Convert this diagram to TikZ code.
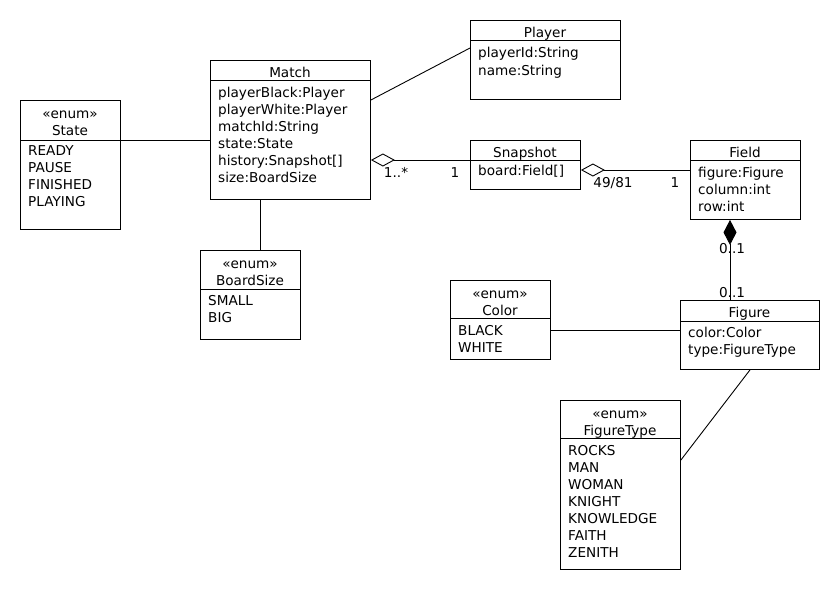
\documentclass[tikz,border=0pt]{standalone}
\usepackage{fontspec}
\setmainfont{DejaVu Sans}
\usetikzlibrary{arrows.meta}
\begin{document}
\begin{tikzpicture}[x=1pt,y=-1pt,
  classbox/.style={draw,line width=0.9pt,fill=white,inner sep=0pt,anchor=north west},
  txt/.style={inner sep=0pt,anchor=base west,font=\fontsize{13.6}{17}\selectfont},
  ttl/.style={inner sep=0pt,anchor=base,font=\fontsize{13.6}{17}\selectfont},
  lbl/.style={inner sep=0pt,anchor=base,font=\fontsize{13.6}{17}\selectfont},
  conn/.style={line width=0.9pt},
  agg/.style={conn,{Diamond[open,length=24pt,width=13pt,line width=0.9pt]}-},
  comp/.style={conn,{Diamond[length=25pt,width=13pt]}-}]
\useasboundingbox[fill=white] (0,0) rectangle (840,590);

% Player
\node[classbox,minimum width=150pt,minimum height=79pt] (player) at (470,20) {};
\draw[conn] (player.west |- 0,40) -- (player.east |- 0,40);
\node[ttl] (playerT) at (545,37) {Player};
\node[txt] (playerA1) at (478,57) {playerId:String};
\node[txt] (playerA2) at (478,75) {name:String};

% Match
\node[classbox,minimum width=160pt,minimum height=139pt] (match) at (210,60) {};
\draw[conn] (match.west |- 0,80) -- (match.east |- 0,80);
\node[ttl] (matchT) at (290,77) {Match};
\node[txt] (matchA1) at (218,97) {playerBlack:Player};
\node[txt] (matchA2) at (218,114) {playerWhite:Player};
\node[txt] (matchA3) at (218,131) {matchId:String};
\node[txt] (matchA4) at (218,148) {state:State};
\node[txt] (matchA5) at (218,165) {history:Snapshot[]};
\node[txt] (matchA6) at (218,182) {size:BoardSize};

% State
\node[classbox,minimum width=100pt,minimum height=129pt] (state) at (20,100) {};
\draw[conn] (state.west |- 0,140) -- (state.east |- 0,140);
\node[ttl] (stateS) at (70,118) {«enum»};
\node[ttl] (stateT) at (70,135) {State};
\node[txt] (stateA1) at (28,155) {READY};
\node[txt] (stateA2) at (28,172) {PAUSE};
\node[txt] (stateA3) at (28,189) {FINISHED};
\node[txt] (stateA4) at (28,206) {PLAYING};

% BoardSize
\node[classbox,minimum width=100pt,minimum height=89pt] (board) at (200,250) {};
\draw[conn] (board.west |- 0,289) -- (board.east |- 0,289);
\node[ttl] (boardS) at (250,268) {«enum»};
\node[ttl] (boardT) at (250,285) {BoardSize};
\node[txt] (boardA1) at (208,305) {SMALL};
\node[txt] (boardA2) at (208,322) {BIG};

% Snapshot
\node[classbox,minimum width=110pt,minimum height=49pt] (snap) at (470,140) {};
\draw[conn] (snap.west |- 0,160) -- (snap.east |- 0,160);
\node[ttl] (snapT) at (525,157) {Snapshot};
\node[txt] (snapA1) at (478,175) {board:Field[]};

% Field
\node[classbox,minimum width=110pt,minimum height=79pt] (field) at (690,140) {};
\draw[conn] (field.west |- 0,160) -- (field.east |- 0,160);
\node[ttl] (fieldT) at (745,157) {Field};
\node[txt] (fieldA1) at (698,177) {figure:Figure};
\node[txt] (fieldA2) at (698,194) {column:int};
\node[txt] (fieldA3) at (698,211) {row:int};

% Color
\node[classbox,minimum width=100pt,minimum height=79pt] (color) at (450,280) {};
\draw[conn] (color.west |- 0,318) -- (color.east |- 0,318);
\node[ttl] (colorS) at (500,298) {«enum»};
\node[ttl] (colorT) at (500,315) {Color};
\node[txt] (colorA1) at (458,335) {BLACK};
\node[txt] (colorA2) at (458,352) {WHITE};

% Figure
\node[classbox,minimum width=139pt,minimum height=69pt] (figure) at (680,300) {};
\draw[conn] (figure.west |- 0,321) -- (figure.east |- 0,321);
\node[ttl] (figureT) at (749.5,317) {Figure};
\node[txt] (figureA1) at (688,337) {color:Color};
\node[txt] (figureA2) at (688,354) {type:FigureType};

% FigureType
\node[classbox,minimum width=120pt,minimum height=169pt] (ftype) at (560,400) {};
\draw[conn] (ftype.west |- 0,438) -- (ftype.east |- 0,438);
\node[ttl] (ftypeS) at (620,418) {«enum»};
\node[ttl] (ftypeT) at (620,435) {FigureType};
\node[txt] (ftypeA1) at (568,455) {ROCKS};
\node[txt] (ftypeA2) at (568,472) {MAN};
\node[txt] (ftypeA3) at (568,489) {WOMAN};
\node[txt] (ftypeA4) at (568,506) {KNIGHT};
\node[txt] (ftypeA5) at (568,523) {KNOWLEDGE};
\node[txt] (ftypeA6) at (568,540) {FAITH};
\node[txt] (ftypeA7) at (568,557) {ZENITH};

% Connectors
\draw[conn] (match.east |- 0,100) -- (player.west |- 0,48);
\draw[conn] (state.east |- 0,140) -- (match.west |- 0,140);
\draw[conn] (match.south -| 260,0) -- (board.north -| 260,0);
\draw[agg] (match.east |- 0,160) -- (snap.west |- 0,160);
\node[lbl] (l1) at (396,177) {1..*};
\node[lbl] (l2) at (455,177) {1};
\draw[agg] (snap.east |- 0,170) -- (field.west |- 0,170);
\node[lbl] (l3) at (613,187) {49/81};
\node[lbl] (l4) at (675,187) {1};
\draw[comp] (field.south -| 730,0) -- (figure.north -| 730,0);
\node[lbl] (l5) at (732,253) {0..1};
\node[lbl] (l6) at (732,297) {0..1};
\draw[conn] (color.east |- 0,330) -- (figure.west |- 0,330);
\draw[conn] (figure.south -| 750,0) -- (ftype.east |- 0,460);
\end{tikzpicture}
\end{document}
